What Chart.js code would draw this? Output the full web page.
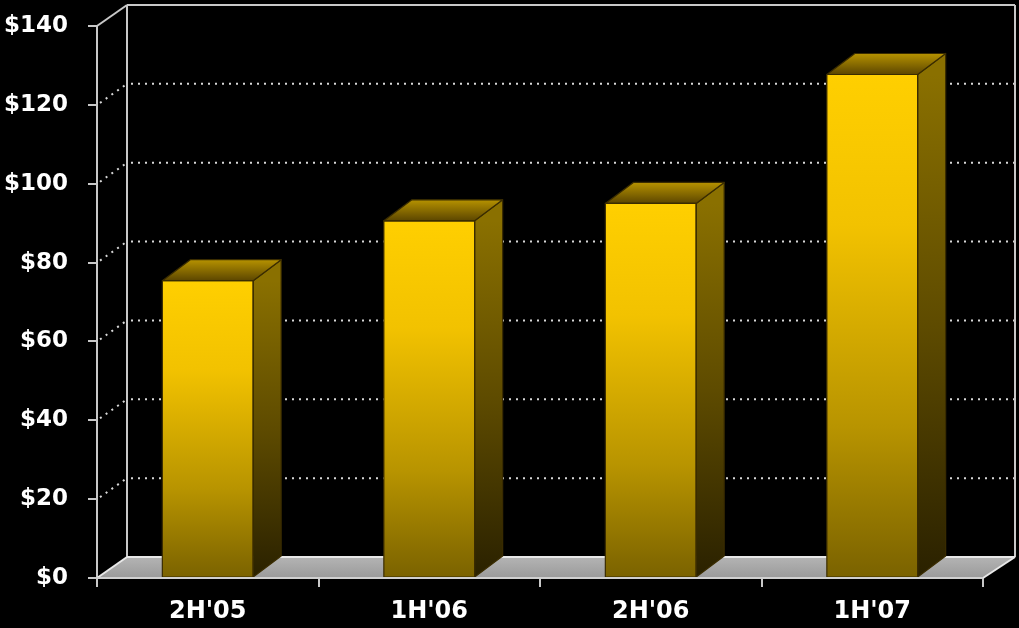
<!DOCTYPE html>
<html>
<head>
<meta charset="utf-8">
<title>Semi-annual results</title>
<script src="https://cdn.jsdelivr.net/npm/chart.js@4.4.1/dist/chart.umd.min.js"></script>
<style>
  html, body { margin: 0; padding: 0; background: #000; }
  #wrap { width: 1019px; height: 628px; position: relative; }
</style>
</head>
<body>
<div id="wrap"><canvas id="grafico" width="1019" height="628"></canvas></div>
<script>
// dados do grafico
const periodos = ["2H'05", "1H'06", "2H'06", "1H'07"]
const valores = [75.4, 90.6, 95.0, 127.7]
const yMin = 0
const yMax = 140
const yPasso = 20

// profundidade do efeito 3D (px)
const PROF_X = 30
const PROF_Y = 21

function pontilhado(ctx, x1, y1, x2, y2) {
  ctx.save()
  ctx.strokeStyle = '#d8d8d8'
  ctx.lineWidth = 2
  ctx.setLineDash([2, 5])
  ctx.beginPath()
  ctx.moveTo(x1, y1)
  ctx.lineTo(x2, y2)
  ctx.stroke()
  ctx.restore()
}

function linha(ctx, x1, y1, x2, y2, cor) {
  ctx.save()
  ctx.strokeStyle = cor || '#c8c8c8'
  ctx.lineWidth = 2
  ctx.beginPath()
  ctx.moveTo(x1, y1)
  ctx.lineTo(x2, y2)
  ctx.stroke()
  ctx.restore()
}

// chao, parede de fundo e linhas de grade
const cenario3d = {
  id: 'cenario3d',
  beforeDatasetsDraw(chart) {
    const { ctx, chartArea: a, scales: { y } } = chart
    const base = y.getPixelForValue(0)

    // chao cinza
    const gChao = ctx.createLinearGradient(0, base - PROF_Y, 0, base)
    gChao.addColorStop(0, '#b4b4b4')
    gChao.addColorStop(1, '#9a9a9a')
    ctx.save()
    ctx.fillStyle = gChao
    ctx.beginPath()
    ctx.moveTo(a.left, base)
    ctx.lineTo(a.left + PROF_X, base - PROF_Y)
    ctx.lineTo(a.right + PROF_X + 2, base - PROF_Y)
    ctx.lineTo(a.right, base)
    ctx.closePath()
    ctx.fill()
    ctx.restore()

    // grade pontilhada na parede de fundo
    for (let v = yMin + yPasso; v < yMax; v += yPasso) {
      const py = y.getPixelForValue(v)
      pontilhado(ctx, a.left + 3, py - 2, a.left + PROF_X, py - PROF_Y)
      pontilhado(ctx, a.left + PROF_X + 4, py - PROF_Y, a.right + PROF_X + 2, py - PROF_Y)
    }

    // contorno da parede
    const topo = y.getPixelForValue(yMax)
    linha(ctx, a.left, topo, a.left + PROF_X, topo - PROF_Y)
    linha(ctx, a.left + PROF_X, topo - PROF_Y, a.right + PROF_X + 2, topo - PROF_Y)
    linha(ctx, a.left + PROF_X, topo - PROF_Y, a.left + PROF_X, base - PROF_Y)
    linha(ctx, a.right + PROF_X + 2, topo - PROF_Y, a.right + PROF_X + 2, base - PROF_Y)
    linha(ctx, a.left + PROF_X, base - PROF_Y, a.right + PROF_X + 2, base - PROF_Y, '#e8e8e8')
    linha(ctx, a.right, base, a.right + PROF_X + 2, base - PROF_Y, '#e8e8e8')
    linha(ctx, a.left, base, a.left + PROF_X, base - PROF_Y, '#e8e8e8')
  },
  afterDatasetsDraw(chart) {
    const { ctx } = chart
    const meta = chart.getDatasetMeta(0)
    meta.data.forEach(bar => {
      const esq = bar.x - bar.width / 2
      const dir = bar.x + bar.width / 2
      const topo = bar.y
      const base = bar.base
      const dx = PROF_X - 2
      const dy = PROF_Y

      ctx.save()
      ctx.strokeStyle = '#3a2c00'
      ctx.lineWidth = 1.2
      ctx.lineJoin = 'round'

      // face lateral
      const gLado = ctx.createLinearGradient(0, topo, 0, base)
      gLado.addColorStop(0, '#8a7000')
      gLado.addColorStop(0.5, '#5e4b00')
      gLado.addColorStop(1, '#2a2100')
      ctx.fillStyle = gLado
      ctx.beginPath()
      ctx.moveTo(dir, topo)
      ctx.lineTo(dir + dx, topo - dy)
      ctx.lineTo(dir + dx, base - dy)
      ctx.lineTo(dir, base)
      ctx.closePath()
      ctx.fill()
      ctx.stroke()

      // face de cima
      const gTopo = ctx.createLinearGradient(0, topo - dy, 0, topo)
      gTopo.addColorStop(0, '#b69200')
      gTopo.addColorStop(1, '#5c4600')
      ctx.fillStyle = gTopo
      ctx.beginPath()
      ctx.moveTo(esq, topo)
      ctx.lineTo(esq + dx, topo - dy)
      ctx.lineTo(dir + dx, topo - dy)
      ctx.lineTo(dir, topo)
      ctx.closePath()
      ctx.fill()
      ctx.stroke()

      // contorno da frente
      ctx.strokeRect(esq, topo, dir - esq, base - topo)
      ctx.restore()
    })

    // borda da frente do chao por cima das barras
    const { chartArea: a, scales: { y } } = chart
    const b = y.getPixelForValue(0)
    linha(chart.ctx, a.left, b, a.right, b, '#d0d0d0')
  }
}

function corFrente(context) {
  const chart = context.chart
  const y = chart.scales.y
  if (!chart.chartArea || !y) return '#f0c000'
  const topo = y.getPixelForValue(context.raw)
  const base = y.getPixelForValue(0)
  const g = chart.ctx.createLinearGradient(0, topo, 0, base)
  g.addColorStop(0, '#ffcf00')
  g.addColorStop(0.3, '#f2c200')
  g.addColorStop(0.7, '#b89400')
  g.addColorStop(1, '#7a6200')
  return g
}

Chart.defaults.font.family = "'DejaVu Sans', Verdana, sans-serif"
Chart.defaults.font.weight = 'bold'

new Chart(document.getElementById('grafico'), {
  type: 'bar',
  data: {
    labels: periodos,
    datasets: [{
      label: 'Valor',
      data: valores,
      backgroundColor: corFrente,
      borderWidth: 0,
      barPercentage: 0.82,
      categoryPercentage: 0.5
    }]
  },
  options: {
    responsive: false,
    animation: false,
    layout: { padding: { top: 26, right: 36, left: 0, bottom: 0 } },
    plugins: {
      legend: { display: false },
      tooltip: { enabled: false }
    },
    scales: {
      x: {
        offset: true,
        grid: {
          offset: true,
          drawOnChartArea: false,
          color: '#c8c8c8',
          lineWidth: 2,
          tickLength: 9
        },
        border: { display: false },
        ticks: {
          color: '#ffffff',
          padding: 10,
          font: { size: 24, weight: 'bold' }
        },
        afterFit(scale) { scale.height = 50 }
      },
      y: {
        min: yMin,
        max: yMax,
        grid: {
          drawOnChartArea: false,
          color: '#c8c8c8',
          lineWidth: 2,
          tickLength: 9
        },
        border: { display: true, color: '#c8c8c8', width: 2 },
        ticks: {
          stepSize: yPasso,
          color: '#ffffff',
          padding: 20,
          font: { size: 23, weight: 'bold' },
          callback: v => '$' + v
        },
        afterFit(scale) {
          scale.width = 97
          scale.paddingTop = 0
          scale.paddingBottom = 0
        }
      }
    }
  },
  plugins: [cenario3d]
})
</script>
</body>
</html>
